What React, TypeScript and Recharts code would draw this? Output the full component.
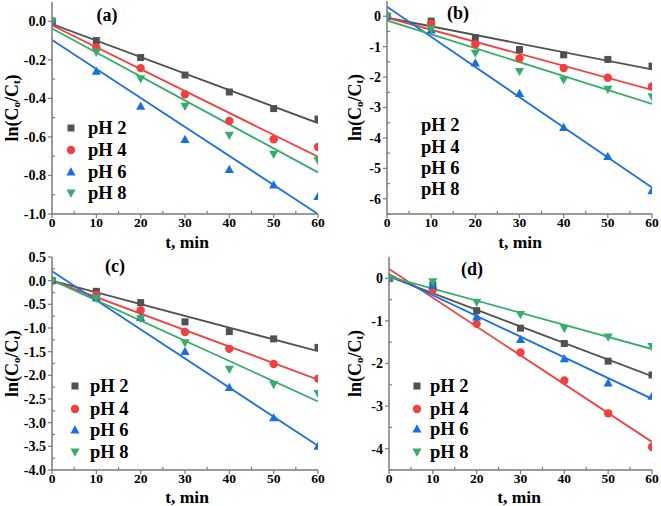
import React from 'react';
import { ComposedChart, Line, Scatter, XAxis, YAxis } from 'recharts';

const TIME = [0, 10, 20, 30, 40, 50, 60];
const FIT_TIME = [0, 60];
const X_TICKS = [0, 10, 20, 30, 40, 50, 60];
const X_MINOR_TICKS = [5, 15, 25, 35, 45, 55];
const SERIES_NAMES = ['pH 2', 'pH 4', 'pH 6', 'pH 8'];
const COLORS = ['#515151', '#F14040', '#1A6FDF', '#37AD6B'];
const PANEL_TAGS = ['(a)', '(b)', '(c)', '(d)'];

// Panel (a)
const A_PH2 = [0, -0.1, -0.188, -0.279, -0.367, -0.453, -0.507];
const A_PH4 = [0, -0.136, -0.243, -0.379, -0.517, -0.612, -0.652];
const A_PH6 = [0, -0.26, -0.441, -0.614, -0.769, -0.85, -0.91];
const A_PH8 = [0, -0.16, -0.298, -0.441, -0.591, -0.69, -0.722];
const A_FIT_PH2 = [-0.014, -0.528];
const A_FIT_PH4 = [-0.021, -0.703];
const A_FIT_PH6 = [-0.097, -1.0];
const A_FIT_PH8 = [-0.038, -0.784];
const A_Y_TICKS = [-1.0, -0.8, -0.6, -0.4, -0.2, 0.0];
const A_Y_MINOR = [-0.9, -0.7, -0.5, -0.3, -0.1];

// Panel (b)
const B_PH2 = [0, -0.16, -0.705, -1.096, -1.27, -1.42, -1.64];
const B_PH4 = [0, -0.25, -0.92, -1.39, -1.7, -2.02, -2.31];
const B_PH6 = [0, -0.46, -1.54, -2.54, -3.66, -4.61, -5.74];
const B_PH8 = [0, -0.42, -1.21, -1.81, -2.09, -2.4, -2.64];
const B_FIT_PH2 = [-0.05, -1.75];
const B_FIT_PH4 = [-0.05, -2.42];
const B_FIT_PH6 = [0.31, -5.63];
const B_FIT_PH8 = [-0.14, -2.88];
const B_Y_TICKS = [-6, -5, -4, -3, -2, -1, 0];
const B_Y_MINOR = [-6.5, -5.5, -4.5, -3.5, -2.5, -1.5, -0.5];

// Panel (c)
const C_PH2 = [0, -0.225, -0.464, -0.87, -1.076, -1.23, -1.41];
const C_PH4 = [0, -0.3, -0.626, -1.083, -1.44, -1.76, -2.07];
const C_PH6 = [0, -0.37, -0.78, -1.5, -2.26, -2.9, -3.5];
const C_PH8 = [0, -0.37, -0.8, -1.31, -1.87, -2.19, -2.38];
const C_FIT_PH2 = [0.0, -1.49];
const C_FIT_PH4 = [0.0, -2.09];
const C_FIT_PH6 = [0.2, -3.49];
const C_FIT_PH8 = [0.01, -2.55];
const C_Y_TICKS = [-4.0, -3.5, -3.0, -2.5, -2.0, -1.5, -1.0, -0.5, 0.0, 0.5];
const C_Y_MINOR = [-3.75, -3.25, -2.75, -2.25, -1.75, -1.25, -0.75, -0.25, 0.25];

// Panel (d)
const D_PH2 = [0, -0.16, -0.76, -1.17, -1.53, -1.945, -2.27];
const D_PH4 = [0, -0.27, -1.07, -1.74, -2.4, -3.17, -3.96];
const D_PH6 = [0, -0.17, -0.91, -1.44, -1.89, -2.46, -2.77];
const D_PH8 = [0, -0.08, -0.56, -0.85, -1.17, -1.375, -1.6];
const D_FIT_PH2 = [0.04, -2.3];
const D_FIT_PH4 = [0.22, -3.84];
const D_FIT_PH6 = [0.09, -2.83];
const D_FIT_PH8 = [0.04, -1.66];
const D_Y_TICKS = [-4, -3, -2, -1, 0];
const D_Y_MINOR = [-4.5, -3.5, -2.5, -1.5, -0.5];

const FONT = "'Liberation Serif', 'Times New Roman', serif";
const AXIS_COLOR = '#7a7a7a';

const toPoints = (xs: number[], ys: number[]) => xs.map((t, i) => ({ t, v: ys[i] }));
const isIn = (list: number[], v: number) => list.some((m) => Math.abs(m - v) < 1e-6);

type MarkerProps = { cx?: number; cy?: number; kind: number; color: string };
function Marker({ cx = 0, cy = 0, kind, color }: MarkerProps) {
  if (kind === 0) return <rect x={cx - 3.5} y={cy - 3.5} width={7} height={7} fill={color} />;
  if (kind === 1) return <circle cx={cx} cy={cy} r={4.2} fill={color} />;
  if (kind === 2)
    return <polygon points={`${cx},${cy - 4.8} ${cx - 4.6},${cy + 3.4} ${cx + 4.6},${cy + 3.4}`} fill={color} />;
  return <polygon points={`${cx},${cy + 4.8} ${cx - 4.6},${cy - 3.4} ${cx + 4.6},${cy - 3.4}`} fill={color} />;
}

function makeXTick(axisY: number) {
  return (props: any) => {
    const { x, payload } = props;
    const major = isIn(X_TICKS, payload.value);
    return (
      <g>
        <line x1={x} x2={x} y1={axisY} y2={major ? axisY + 4 : axisY - 3} stroke={AXIS_COLOR} strokeWidth={1.2} />
        {major && (
          <text x={x} y={axisY + 3} dy="0.72em" textAnchor="middle" fontFamily={FONT} fontWeight="bold" fontSize={13.5} fill="#000">
            {payload.value}
          </text>
        )}
      </g>
    );
  };
}

function makeYTick(axisX: number, majors: number[], decimals: number) {
  return (props: any) => {
    const { y, payload } = props;
    const major = isIn(majors, payload.value);
    return (
      <g>
        <line x1={axisX} x2={major ? axisX - 4 : axisX + 3} y1={y} y2={y} stroke={AXIS_COLOR} strokeWidth={1.2} />
        {major && (
          <text x={axisX - 6} y={y} dy="0.35em" textAnchor="end" fontFamily={FONT} fontWeight="bold" fontSize={14} fill="#000">
            {Number(payload.value).toFixed(decimals)}
          </text>
        )}
      </g>
    );
  };
}

function YLab({ x, y }: { x: number; y: number }) {
  return (
    <text
      x={x}
      y={y}
      transform={`rotate(-90 ${x} ${y})`}
      textAnchor="middle"
      dominantBaseline="central"
      fontFamily={FONT}
      fontWeight="bold"
      fontSize={18}
      fill="#000"
    >
      ln(C
      <tspan dy={4} fontSize={11}>o</tspan>
      <tspan dy={-4}>/C</tspan>
      <tspan dy={4} fontSize={11}>t</tspan>
      <tspan dy={-4}>)</tspan>
    </text>
  );
}

const PANELS = [
  {
    left: 0, top: 0, width: 330, height: 253,
    margin: { top: 2, right: 12, bottom: 0, left: 0 },
    yWidth: 52, xHeight: 39,
    yDomain: [-1.0, 0.1], yTicks: A_Y_TICKS, yMinor: A_Y_MINOR, decimals: 1,
    series: [A_PH2, A_PH4, A_PH6, A_PH8], fits: [A_FIT_PH2, A_FIT_PH4, A_FIT_PH6, A_FIT_PH8],
    ylab: 12, xlab: [187, 242], tag: [107, 15],
    legend: { markerX: 71, textX: 88, rows: [128, 150, 172, 193], markers: true },
  },
  {
    left: 330, top: 0, width: 331, height: 253,
    margin: { top: 1, right: 9, bottom: 0, left: 0 },
    yWidth: 57, xHeight: 39,
    yDomain: [-6.5, 0.5], yTicks: B_Y_TICKS, yMinor: B_Y_MINOR, decimals: 0,
    series: [B_PH2, B_PH4, B_PH6, B_PH8], fits: [B_FIT_PH2, B_FIT_PH4, B_FIT_PH6, B_FIT_PH8],
    ylab: 25, xlab: [190, 242], tag: [128, 13],
    legend: { markerX: 0, textX: 91, rows: [125, 147, 168, 189], markers: false },
  },
  {
    left: 0, top: 243, width: 330, height: 263,
    margin: { top: 14, right: 12, bottom: 0, left: 0 },
    yWidth: 52, xHeight: 36,
    yDomain: [-4.0, 0.5], yTicks: C_Y_TICKS, yMinor: C_Y_MINOR, decimals: 1,
    series: [C_PH2, C_PH4, C_PH6, C_PH8], fits: [C_FIT_PH2, C_FIT_PH4, C_FIT_PH6, C_FIT_PH8],
    ylab: 12, xlab: [187, 254], tag: [115, 23],
    legend: { markerX: 75, textX: 90, rows: [143, 166, 187, 209], markers: true },
  },
  {
    left: 330, top: 243, width: 331, height: 263,
    margin: { top: 14, right: 9, bottom: 0, left: 0 },
    yWidth: 59, xHeight: 36,
    yDomain: [-4.5, 0.5], yTicks: D_Y_TICKS, yMinor: D_Y_MINOR, decimals: 0,
    series: [D_PH2, D_PH4, D_PH6, D_PH8], fits: [D_FIT_PH2, D_FIT_PH4, D_FIT_PH6, D_FIT_PH8],
    ylab: 25, xlab: [189, 254], tag: [142, 26],
    legend: { markerX: 87, textX: 100, rows: [143, 166, 186, 209], markers: true },
  },
];

function Panel({ p, idx }: { p: (typeof PANELS)[number]; idx: number }) {
  const plotTop = p.margin.top;
  const plotBottom = p.height - p.margin.bottom - p.xHeight;
  const plotH = plotBottom - plotTop;
  const allX = [...X_TICKS, ...X_MINOR_TICKS].sort((a, b) => a - b);
  const allY = [...p.yTicks, ...p.yMinor].sort((a, b) => a - b);
  return (
    <div style={{ position: 'absolute', left: p.left, top: p.top, width: p.width, height: p.height }}>
      <ComposedChart width={p.width} height={p.height} margin={p.margin}>
        <XAxis
          xAxisId="main"
          type="number"
          dataKey="t"
          domain={[0, 60]}
          ticks={allX}
          interval={0}
          allowDataOverflow
          height={p.xHeight}
          stroke={AXIS_COLOR}
          strokeWidth={1.5}
          tickLine={false}
          tickSize={3}
          tickMargin={1}
          tick={makeXTick(plotBottom)}
          label={() => (
            <text
              x={p.xlab[0]}
              y={p.xlab[1]}
              textAnchor="middle"
              dominantBaseline="central"
              fontFamily={FONT}
              fontWeight="bold"
              fontSize={17.5}
              fill="#000"
            >
              t, min
            </text>
          )}
        />
        <XAxis
          xAxisId="top"
          orientation="top"
          type="number"
          domain={[0, 60]}
          height={0}
          tick={false}
          tickLine={false}
          stroke={AXIS_COLOR}
          strokeWidth={1.5}
        />
        <YAxis
          yAxisId="main"
          type="number"
          dataKey="v"
          domain={p.yDomain}
          ticks={allY}
          interval={0}
          allowDataOverflow
          width={p.yWidth}
          stroke={AXIS_COLOR}
          strokeWidth={1.5}
          tickLine={false}
          tickSize={3}
          tickMargin={3}
          tick={makeYTick(p.yWidth, p.yTicks, p.decimals)}
          label={() => <YLab x={p.ylab} y={plotTop + plotH / 2} />}
        />
        <YAxis
          yAxisId="right"
          orientation="right"
          type="number"
          domain={p.yDomain}
          width={0}
          tick={false}
          tickLine={false}
          stroke={AXIS_COLOR}
          strokeWidth={2}
        />
        {p.series.map((ys, i) => (
          <Line
            key={`fit-${i}`}
            xAxisId="main"
            yAxisId="main"
            data={toPoints(FIT_TIME, p.fits[i])}
            dataKey="v"
            type="linear"
            stroke={COLORS[i]}
            strokeWidth={1.8}
            dot={false}
            activeDot={false}
            isAnimationActive={false}
          />
        ))}
        {p.series.map((ys, i) => (
          <Scatter
            key={`pts-${i}`}
            xAxisId="main"
            yAxisId="main"
            name={SERIES_NAMES[i]}
            data={toPoints(TIME, ys)}
            dataKey="v"
            fill={COLORS[i]}
            isAnimationActive={false}
            shape={(sp: any) => <Marker cx={sp.cx} cy={sp.cy} kind={i} color={COLORS[i]} />}
          />
        ))}
      </ComposedChart>
      <svg
        width={p.width}
        height={p.height}
        style={{ position: 'absolute', left: 0, top: 0, pointerEvents: 'none' }}
      >
        <text
          x={p.tag[0]}
          y={p.tag[1]}
          textAnchor="middle"
          dominantBaseline="central"
          fontFamily={FONT}
          fontWeight="bold"
          fontSize={18}
          fill="#000"
        >
          {PANEL_TAGS[idx]}
        </text>
        {SERIES_NAMES.map((name, i) => (
          <g key={name}>
            {p.legend.markers && (
              <Marker cx={p.legend.markerX} cy={p.legend.rows[i]} kind={i} color={COLORS[i]} />
            )}
            <text
              x={p.legend.textX}
              y={p.legend.rows[i]}
              dominantBaseline="central"
              fontFamily={FONT}
              fontWeight="bold"
              fontSize={18.5}
              fill="#000"
            >
              {name}
            </text>
          </g>
        ))}
      </svg>
    </div>
  );
}

export default function App() {
  return (
    <div
      style={{
        position: 'absolute',
        left: 0,
        top: 0,
        width: 661,
        height: 506,
        background: '#fff',
        overflow: 'hidden',
      }}
    >
      {PANELS.map((p, i) => (
        <Panel key={i} p={p} idx={i} />
      ))}
    </div>
  );
}
